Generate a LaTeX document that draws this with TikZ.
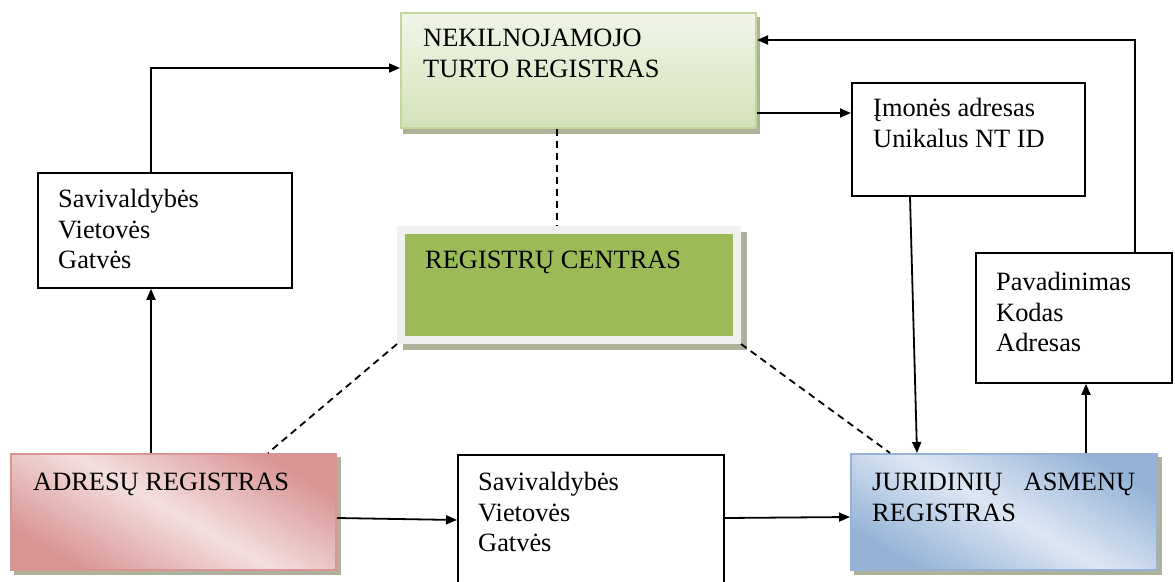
\documentclass[tikz,border=0pt]{standalone}
\usepackage{fontspec}
\setmainfont{Liberation Serif}
\usetikzlibrary{arrows.meta}

\definecolor{ntrlight}{RGB}{241,245,232}
\definecolor{ntrdark}{RGB}{212,226,185}
\definecolor{ntrline}{RGB}{195,214,155}
\definecolor{rcgreen}{RGB}{155,187,89}
\definecolor{rcframe}{RGB}{240,240,240}
\definecolor{adrdark}{RGB}{217,149,148}
\definecolor{adrlight}{RGB}{243,223,222}
\definecolor{jardark}{RGB}{149,179,215}
\definecolor{jarlight}{RGB}{221,231,243}
\definecolor{shadowcol}{RGB}{175,178,155}

\pgfdeclarelayer{bg}
\pgfsetlayers{bg,main}

\tikzset{
  box/.style={draw, line width=1.8pt, anchor=north west, inner sep=0pt},
  regbox/.style={line width=2pt, anchor=north west, inner sep=0pt},
  lbl/.style={anchor=north west, inner sep=0pt, align=left,
    font=\fontsize{26.4}{30.5}\selectfont},
  arr/.style={line width=1.8pt, -{Triangle[length=11pt,width=9pt]}},
  dotline/.style={line width=1.8pt, dash pattern=on 7pt off 5pt},
  shadowfill/.style={fill=shadowcol}
}

\begin{document}
\begin{tikzpicture}[x=1pt,y=-1pt]
\useasboundingbox (0,0) rectangle (1175,581);
\clip (0,0) rectangle (1175,581);

\node[regbox, draw=ntrline, top color=ntrlight, bottom color=ntrdark,
  minimum width=355pt, minimum height=115pt] (ntr) at (400,12) {};
\node[regbox, draw=rcframe, fill=rcgreen, line width=8pt,
  minimum width=336pt, minimum height=110pt] (rc) at (397,226) {};
\node[regbox, draw=adrdark, top color=adrdark, bottom color=adrdark,
  middle color=adrlight, shading angle=-30,
  minimum width=325pt, minimum height=116pt] (adr) at (10,453) {};
\node[regbox, draw=jardark, top color=jardark, bottom color=jardark,
  middle color=jarlight, shading angle=-30,
  minimum width=306pt, minimum height=116pt] (jar) at (850,453) {};

\node[box, minimum width=254pt, minimum height=115pt] (sav) at (37,172) {};
\node[box, minimum width=266pt, minimum height=135pt] (mid) at (457,454) {};
\node[box, minimum width=233pt, minimum height=113pt] (imo) at (851,82) {};
\node[box, minimum width=196pt, minimum height=130pt] (pav) at (975,252) {};

\begin{pgfonlayer}{bg}
\fill[shadowfill] ([shift={(3,5)}]ntr.north west) rectangle ([shift={(3,5)}]ntr.south east);
\fill[shadowfill] ([shift={(6,6)}]rc.north west) rectangle ([shift={(6,6)}]rc.south east);
\fill[shadowfill] ([shift={(4,4)}]adr.north west) rectangle ([shift={(4,4)}]adr.south east);
\fill[shadowfill] ([shift={(4,4)}]jar.north west) rectangle ([shift={(4,4)}]jar.south east);
\end{pgfonlayer}

\node[lbl] (ntrtxt) at ([shift={(23,17)}]ntr.north west) {NEKILNOJAMOJO\\TURTO REGISTRAS};
\node[lbl] (rctxt) at ([shift={(28,25)}]rc.north west) {REGISTRŲ CENTRAS};
\node[lbl] (adrtxt) at ([shift={(23,20)}]adr.north west) {ADRESŲ REGISTRAS};
\node[lbl, text width=263pt] (jartxt) at ([shift={(22,20)}]jar.north west) {JURIDINIŲ\hfill ASMENŲ\\REGISTRAS};
\node[lbl] (savtxt) at ([shift={(21,17)}]sav.north west) {Savivaldybės\\Vietovės\\Gatvės};
\node[lbl] (midtxt) at ([shift={(21,18)}]mid.north west) {Savivaldybės\\Vietovės\\Gatvės};
\node[lbl] (imotxt) at ([shift={(22,16)}]imo.north west) {Įmonės adresas\\Unikalus NT ID};
\node[lbl] (pavtxt) at ([shift={(21,20)}]pav.north west) {Pavadinimas\\Kodas\\Adresas};

\coordinate (adrup) at ([shift={(141,0)}]adr.north west);
\coordinate (savup) at ([shift={(114,0)}]sav.north west);
\coordinate (ntrin) at ([shift={(0,56)}]ntr.north west);
\coordinate (jarup) at ([shift={(236,0)}]jar.north west);
\coordinate (pavup) at ([shift={(160,0)}]pav.north west);
\coordinate (ntrback) at ([shift={(0,28)}]ntr.north east);
\coordinate (ntrout) at ([shift={(0,101)}]ntr.north east);

\draw[arr] (adrup) -- (adrup |- sav.south);
\draw[arr] (savup) |- (ntrin);
\draw[arr] ([shift={(0,65)}]adr.north east) -- ([shift={(0,66)}]mid.north west);
\draw[arr] ([shift={(0,64)}]mid.north east) -- ([shift={(0,64)}]jar.north west);
\draw[arr] (jarup) -- (jarup |- pav.south);
\draw[arr] (pavup) |- (ntrback);
\draw[arr] (ntrout) -- (ntrout -| imo.west);
\draw[arr] ([shift={(59,0)}]imo.south west) -- ([shift={(67,0)}]jar.north west);

\draw[dotline] ([shift={(157,0)}]ntr.south west) -- ([shift={(160,0)}]rc.north west);
\draw[dotline] (rc.south west) -- ([shift={(258,0)}]adr.north west);
\draw[dotline] (rc.south east) -- ([shift={(40,0)}]jar.north west);
\end{tikzpicture}
\end{document}
